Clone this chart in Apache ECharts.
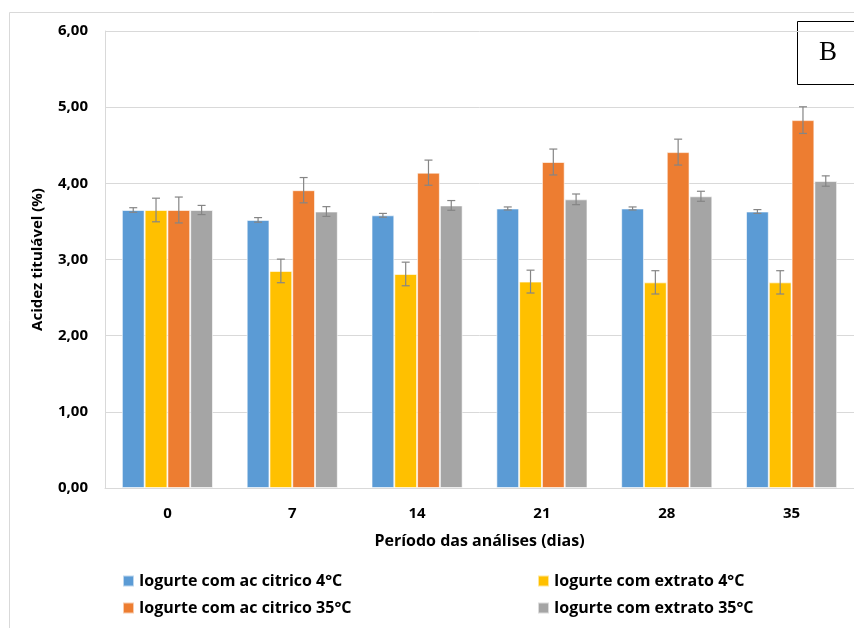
<!DOCTYPE html>
<html>
<head>
<meta charset="utf-8">
<script src="https://cdn.jsdelivr.net/npm/echarts@6/dist/echarts.min.js"></script>
<style>
  html, body { margin: 0; padding: 0; background: #fff; }
  #chart { width: 854px; height: 628px; }
</style>
</head>
<body>
<div id="chart"></div>
<script>
// Storage period (days)
const categories = ['0', '7', '14', '21', '28', '35'];

// Titratable acidity (%) for each yogurt treatment
const citrico4 = [3.65, 3.52, 3.58, 3.67, 3.67, 3.63];
const extrato4 = [3.65, 2.85, 2.81, 2.71, 2.70, 2.70];
const citrico35 = [3.65, 3.91, 4.14, 4.28, 4.41, 4.83];
const extrato35 = [3.65, 3.63, 3.71, 3.79, 3.83, 4.03];

// Standard deviations (error bars)
const citrico4Err = [0.03, 0.03, 0.025, 0.02, 0.02, 0.025];
const extrato4Err = [0.155, 0.155, 0.155, 0.15, 0.153, 0.153];
const citrico35Err = [0.17, 0.166, 0.165, 0.17, 0.17, 0.175];
const extrato35Err = [0.06, 0.064, 0.064, 0.07, 0.066, 0.068];

const yTicks = ['0,00', '1,00', '2,00', '3,00', '4,00', '5,00', '6,00'];

const seriesNames = [
  'Iogurte com ac citrico 4°C',
  'Iogurte com extrato 4°C',
  'Iogurte com ac citrico 35°C',
  'Iogurte com extrato 35°C'
];
const seriesValues = [citrico4, extrato4, citrico35, extrato35];
const seriesErrors = [citrico4Err, extrato4Err, citrico35Err, extrato35Err];
const colors = ['#5B9BD5', '#FFC000', '#ED7D31', '#A5A5A5'];

const CATEGORY_GAP = 0.27;
const FONT = '"Open Sans", "Noto Sans", sans-serif';

const chart = echarts.init(document.getElementById('chart'), null, { renderer: 'canvas' });

const barSeries = seriesNames.map((name, i) => ({
  name: name,
  type: 'bar',
  data: seriesValues[i],
  barGap: '0%',
  barCategoryGap: (CATEGORY_GAP * 100) + '%',
  itemStyle: { color: colors[i], borderColor: 'rgba(255,255,255,0.6)', borderWidth: 1 },
  emphasis: { disabled: true },
  z: 2
}));

const errorSeries = seriesNames.map((name, i) => ({
  name: name,
  type: 'custom',
  data: seriesValues[i].map((v, k) => [k, v, seriesErrors[i][k]]),
  z: 5,
  silent: true,
  renderItem: function (params, api) {
    const cat = api.value(0);
    const v = api.value(1);
    const e = api.value(2);
    const band = api.size([1, 0])[0];
    const groupW = band * (1 - CATEGORY_GAP);
    const barW = groupW / 4;
    const center = api.coord([cat, v]);
    const x = center[0] - groupW / 2 + barW * (i + 0.5);
    const yTop = api.coord([cat, v + e])[1];
    const yBot = api.coord([cat, v - e])[1];
    const cap = 4;
    const style = { stroke: '#858585', lineWidth: 1.2, fill: null };
    return {
      type: 'group',
      children: [
        { type: 'line', shape: { x1: x, y1: yTop, x2: x, y2: yBot }, style: style },
        { type: 'line', shape: { x1: x - cap, y1: yTop, x2: x + cap, y2: yTop }, style: style },
        { type: 'line', shape: { x1: x - cap, y1: yBot, x2: x + cap, y2: yBot }, style: style }
      ]
    };
  }
}));

const legendPos = [
  { left: 122, top: 573 },
  { left: 537, top: 573 },
  { left: 122, top: 600 },
  { left: 537, top: 600 }
];

const option = {
  animation: false,
  backgroundColor: '#ffffff',
  color: colors,
  grid: { left: 105, top: 31, right: 0, bottom: 140, containLabel: false },
  legend: seriesNames.map((name, i) => ({
    data: [name],
    left: legendPos[i].left,
    top: legendPos[i].top,
    padding: 0,
    itemWidth: 11,
    itemHeight: 11,
    itemGap: 6,
    icon: 'rect',
    selectedMode: false,
    textStyle: { fontFamily: FONT, fontSize: 16, fontWeight: 'bold', color: '#000' }
  })),
  xAxis: {
    type: 'category',
    data: categories,
    name: 'Período das análises (dias)',
    nameLocation: 'middle',
    nameGap: 45,
    nameTextStyle: { fontFamily: FONT, fontSize: 16, fontWeight: 'bold', color: '#000' },
    axisLine: { show: true, lineStyle: { color: '#d9d9d9', width: 1 } },
    axisTick: { show: false },
    axisLabel: { fontFamily: FONT, fontSize: 15, fontWeight: 'bold', color: '#000', margin: 18 }
  },
  yAxis: {
    type: 'value',
    min: 0,
    max: 6,
    interval: 1,
    name: 'Acidez titulável (%)',
    nameLocation: 'middle',
    nameGap: 60,
    nameRotate: 90,
    nameTextStyle: { fontFamily: FONT, fontSize: 15, fontWeight: 'bold', color: '#000' },
    axisLine: { show: true, lineStyle: { color: '#d9d9d9', width: 1 } },
    axisTick: { show: false },
    splitLine: { lineStyle: { color: '#d9d9d9', width: 1 } },
    axisLabel: {
      fontFamily: FONT, fontSize: 15, fontWeight: 'bold', color: '#000', margin: 17,
      formatter: function (val) { return yTicks[Math.round(val)]; }
    }
  },
  series: barSeries.concat(errorSeries),
  graphic: [
    {
      type: 'rect',
      z: -10,
      shape: { x: 9.5, y: 12.5, width: 900, height: 700 },
      style: { fill: null, stroke: '#d9d9d9', lineWidth: 1 }
    },
    {
      type: 'group',
      left: 797,
      top: 21,
      z: 100,
      children: [
        {
          type: 'rect',
          shape: { x: 0.5, y: 0.5, width: 70, height: 63 },
          style: { fill: '#fff', stroke: '#000', lineWidth: 1 }
        },
        {
          type: 'text',
          x: 31,
          y: 32,
          style: {
            text: 'B',
            font: '27px "Liberation Serif", "DejaVu Serif", serif',
            fill: '#000',
            align: 'center',
            verticalAlign: 'middle'
          }
        }
      ]
    }
  ]
};

chart.setOption(option);
</script>
</body>
</html>
